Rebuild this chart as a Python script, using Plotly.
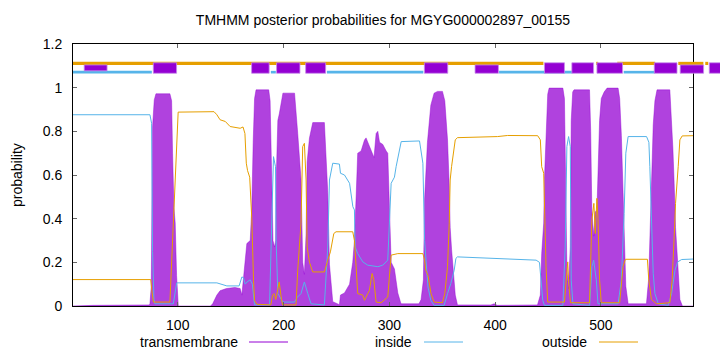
import plotly.graph_objects as go

# ---------------- data ----------------
title_text = "TMHMM posterior probabilities for MGYG000002897_00155"
seq_len = 587
x_ticks = [100, 200, 300, 400, 500]
y_ticks = [0, 0.2, 0.4, 0.6, 0.8, 1.0, 1.2]
y_tick_labels = ["0", "0.2", "0.4", "0.6", "0.8", "1", "1.2"]
legend_names = ["transmembrane", "inside", "outside"]

# posterior probability: transmembrane
tm_pos = [1, 20, 73, 73.7, 75, 76.2, 77.8, 79.4, 92.6, 94.2, 95.1, 96.4, 97.6, 98.9, 100.5,
          131, 133, 137, 140, 146, 154, 159, 160.6, 162.1, 163.7, 165.3, 168.5, 170, 171.3,
          172.6, 174, 186, 187.3, 188.5, 190, 191.5, 192.5, 193.2, 194.6, 196, 197.5, 199.4,
          208, 210.4, 213.4, 216.5, 218.1, 219.7, 221.3, 222.3, 224.5, 227.6, 238.6, 241.8,
          243.4, 244.3, 246.5, 252.8, 253.8, 257.6, 262.4, 265.4, 267, 268.6, 270.1, 273.3,
          276.5, 278, 279.6, 282.8, 285.5, 287.5, 289.1, 290.7, 293.8, 297, 298.5, 300.1,
          301.7, 304.8, 306.4, 308, 311, 328, 330, 332.2, 333.3, 336, 339.2, 342.3, 345.5,
          350.2, 352.4, 355, 356.6, 357.5, 358.8, 360.7, 362.3, 364.4, 396, 399, 402, 440,
          442.7, 444, 445.9, 446.6, 448.1, 449.7, 451, 464, 465.5, 466.2, 467.8, 469.4, 471,
          471.9, 473.3, 474.5, 489.2, 490.3, 491.4, 493.3, 494.6, 496.2, 497.2, 498.7, 500.3,
          503, 505.8, 516.2, 517.7, 519.3, 520.9, 521.9, 523.5, 525.7, 543, 545.2, 546.2,
          547.8, 549.4, 551, 553, 565.1, 566.8, 568, 569.2, 570.5, 573, 574.6, 577, 587]
tm_val = [0, 0.003, 0.005, 0.01, 0.09, 0.82, 0.944, 0.972, 0.972, 0.94, 0.70, 0.45, 0.38, 0.14, 0.0,
          0.0, 0.01, 0.05, 0.07, 0.08, 0.085, 0.08, 0.05, 0.12, 0.21, 0.286, 0.30, 0.45, 0.75,
          0.95, 0.99, 0.99, 0.94, 0.6, 0.3, 0.27, 0.3, 0.6, 0.85, 0.88, 0.93, 0.975,
          0.975, 0.975, 0.79, 0.58, 0.2, 0.145, 0.33, 0.66, 0.77, 0.84, 0.84, 0.52,
          0.19, 0.13, 0.02, 0.006, 0.05, 0.06, 0.1, 0.2, 0.3, 0.5, 0.7, 0.71,
          0.76, 0.77, 0.75, 0.71, 0.68, 0.79, 0.8, 0.75, 0.74, 0.71, 0.7, 0.45,
          0.2, 0.17, 0.12, 0.06, 0.01, 0.01, 0.03, 0.12, 0.49, 0.75, 0.92, 0.975, 0.983,
          0.983, 0.94, 0.76, 0.55, 0.36, 0.26, 0.15, 0.05, 0.005, 0.005, 0.01, 0.003, 0.005,
          0.05, 0.24, 0.38, 0.58, 0.82, 0.97, 0.998, 0.998, 0.95, 0.7, 0.17, 0.08, 0.27,
          0.85, 0.98, 0.99, 0.99, 0.8, 0.43, 0.32, 0.43, 0.44, 0.6, 0.85, 0.95,
          0.98, 0.998, 0.998, 0.95, 0.78, 0.52, 0.38, 0.09, 0.01, 0.01, 0.13, 0.28,
          0.62, 0.83, 0.94, 0.99, 0.99, 0.84, 0.72, 0.56, 0.36, 0.16, 0.03, 0.0, 0.0]

# posterior probability: inside
in_pos = [1, 73.7, 75.3, 76.2, 77.5, 78.4, 95.8, 97, 99, 137, 146.4, 158, 160.6, 162.1, 163.7,
          165.5, 168.5, 170.5, 172.6, 186.8, 189, 190.5, 192.4, 193, 194.6, 199.4, 210.4, 213,
          216.5, 219.7, 222.9, 226, 238.6, 241.8, 243.4, 246.5, 252.8, 253.8, 257.6, 262.4,
          265.5, 267, 267.7, 270.1, 274.9, 279.6, 289.1, 293.8, 298.5, 300.1, 301.7, 304.8,
          306.4, 311.2, 328.5, 331.7, 333.3, 336.5, 339.2, 342.3, 351.8, 355, 358.1, 361.3,
          362.9, 364.4, 399.2, 438.7, 441.9, 443.5, 445, 446.6, 464, 466.2, 467.8, 469.4, 471,
          471.9, 473.5, 489.3, 491.5, 493.1, 495.6, 497.2, 516.2, 519.3, 521.9, 523.5, 525.7,
          543.1, 545.3, 546.2, 547.8, 549.4, 551, 554.2, 563.6, 566.8, 570, 572.5, 576.3, 587]
in_val = [0.876, 0.876, 0.837, 0.25, 0.03, 0.01, 0.01, 0.05, 0.106, 0.106, 0.092, 0.092, 0.133, 0.13, 0.1,
          0.11, 0.12, 0.1, 0.005, 0.005, 0.424, 0.684, 0.638, 0.3, 0.057, 0.018, 0.018, 0.04,
          0.057, 0.11, 0.057, 0.01, 0.005, 0.27, 0.577, 0.654, 0.65, 0.608, 0.6, 0.562,
          0.455, 0.44, 0.27, 0.24, 0.202, 0.187, 0.18, 0.187, 0.21, 0.424, 0.562, 0.59,
          0.638, 0.753, 0.756, 0.654, 0.30, 0.087, 0.026, 0.003, 0.003, 0.057, 0.103, 0.164,
          0.218, 0.225, 0.218, 0.21, 0.2, 0.12, 0.026, 0.003, 0.003, 0.27, 0.73, 0.776, 0.73,
          0.118, 0.01, 0.003, 0.18, 0.21, 0.12, 0.01, 0.01, 0.118, 0.424, 0.7, 0.776,
          0.776, 0.75, 0.638, 0.348, 0.149, 0.057, 0.01, 0.003, 0.057, 0.164, 0.202, 0.213, 0.215]

# posterior probability: outside
out_pos = [1, 74.5, 75.5, 77, 92.6, 95, 97.5, 99, 100.4, 134.3, 137, 140, 145, 149.5, 159, 161.7,
           163.5, 164.8, 166, 168, 170, 171.6, 172.6, 174.8, 188, 189.6, 191, 192.7, 195.9, 197.5,
           199, 211.8, 213.4, 216.5, 218.1, 219.7, 221.3, 222.3, 224.5, 227.6, 238.6, 241.8,
           244.3, 247.5, 249.6, 265.4, 267, 268.6, 270.1, 274.9, 276.5, 279.6, 281.2, 283.7,
           285.3, 287.5, 292.2, 298.5, 300.1, 301.7, 308, 331.7, 333.3, 334.4, 336.5, 339.4,
           342.3, 350.2, 352.4, 355, 356.6, 357.5, 358.8, 360.7, 362.3, 364.4, 402.3, 411.8,
           440.2, 442.7, 444, 445.9, 446.6, 448.1, 449.7, 465.5, 468.6, 469.6, 471.2, 489.2,
           491.4, 493.3, 494.6, 496.2, 497.2, 498.7, 500.3, 517.7, 520.9, 523.1, 543.9, 545.2,
           547.7, 552.5, 565.1, 567.3, 569.2, 570.5, 573, 574.6, 576.8, 587]
out_val = [0.121, 0.121, 0.07, 0.018, 0.018, 0.27, 0.546, 0.73, 0.888, 0.89, 0.876, 0.853, 0.845, 0.822, 0.814, 0.82,
           0.79, 0.654, 0.62, 0.59, 0.4, 0.118, 0.026, 0.008, 0.005, 0.049, 0.057, 0.03, 0.11, 0.05,
           0.005, 0.005, 0.164, 0.378, 0.73, 0.745, 0.577, 0.27, 0.2, 0.156, 0.156, 0.21,
           0.248, 0.332, 0.34, 0.34, 0.3, 0.18, 0.057, 0.05, 0.026, 0.057, 0.072, 0.149,
           0.12, 0.018, 0.015, 0.041, 0.133, 0.233, 0.24, 0.24, 0.21, 0.164, 0.14, 0.057,
           0.018, 0.015, 0.057, 0.18, 0.378, 0.577, 0.638, 0.7, 0.761, 0.771, 0.776, 0.781,
           0.78, 0.761, 0.638, 0.608, 0.424, 0.18, 0.018, 0.018, 0.202, 0.1, 0.015, 0.015,
           0.393, 0.47, 0.332, 0.493, 0.4, 0.12, 0.015, 0.015, 0.18, 0.214, 0.214, 0.12,
           0.03, 0.01, 0.015, 0.12, 0.317, 0.47, 0.638, 0.761, 0.779, 0.78]

# predicted topology strip (residue ranges)
tm_box_start = [11.6, 76.9, 169.8, 193.4, 220.9, 333.1, 381.0, 446.6, 472.5, 496.2, 550.4, 574.9, 602.4]
tm_box_end   = [33.2, 98.9, 186.4, 215.5, 239.8, 355.2, 403.1, 465.5, 493.0, 520.4, 571.9, 597.0, 614.7]
inside_start = [1, 188.0, 241.0, 403.7, 521.5]
inside_end   = [75.5, 192.7, 332.1, 472.8, 550.8]
outside_start = [1, 495.5, 515.4, 573.1, 598.6]
outside_end   = [445.6, 497.4, 551.3, 596.8, 601.4]

# ---------------- style ----------------
C_TM = "#9400d3"
C_TM_FILL = "rgba(148,0,211,0.74)"
C_IN = "#56b4e9"
C_OUT = "#e69f00"
FONT = "Liberation Sans"
W, H = 720, 352
ML, MR, MT, MB = 73, 27, 44, 46
XMIN, XMAX = 1, seq_len
YMIN, YMAX = 0, 1.2
short_boxes = {0, 6, 11}


def xp(v):
    return (v - XMIN) / (XMAX - XMIN)


def yp(v):
    return (v - YMIN) / (YMAX - YMIN)


def px2paper_x(px):
    return (px - ML) / (W - ML - MR)


def px2paper_y(py):
    return (H - MB - py) / (H - MT - MB)


fig = go.Figure()
fig.add_trace(go.Scatter(x=tm_pos, y=tm_val, mode="lines", fill="tozeroy",
                         line=dict(color=C_TM_FILL, width=0.6), fillcolor=C_TM_FILL,
                         name=legend_names[0], showlegend=False))
fig.add_trace(go.Scatter(x=in_pos, y=in_val, mode="lines",
                         line=dict(color=C_IN, width=1), name=legend_names[1], showlegend=False))
fig.add_trace(go.Scatter(x=out_pos, y=out_val, mode="lines",
                         line=dict(color=C_OUT, width=1), name=legend_names[2], showlegend=False))

shapes = []
for a, b in zip(outside_start, outside_end):
    shapes.append(dict(type="line", xref="paper", yref="paper", x0=xp(a), x1=xp(b),
                       y0=yp(1.111), y1=yp(1.111), line=dict(color=C_OUT, width=3.2)))
for a, b in zip(inside_start, inside_end):
    shapes.append(dict(type="line", xref="paper", yref="paper", x0=xp(a), x1=xp(b),
                       y0=yp(1.071), y1=yp(1.071), line=dict(color=C_IN, width=2.6)))
for i, (a, b) in enumerate(zip(tm_box_start, tm_box_end)):
    top = 1.104 if i in short_boxes else 1.114
    bot = 1.077 if i == 0 else 1.066
    shapes.append(dict(type="rect", xref="paper", yref="paper", x0=xp(a), x1=xp(b),
                       y0=yp(bot), y1=yp(top), fillcolor=C_TM,
                       line=dict(color="rgba(200,140,235,1)", width=0.8)))

# legend samples (gnuplot style: text then line)
legend_text_right = [240, 414, 589]
legend_line = [(249, 288), (424, 463), (599, 638)]
legend_colors = [C_TM, C_IN, C_OUT]
legend_y = 342
annotations = []
for name, tx, (l0, l1), col in zip(legend_names, legend_text_right, legend_line, legend_colors):
    annotations.append(dict(text=name, xref="paper", yref="paper", x=px2paper_x(tx),
                            y=px2paper_y(legend_y), xanchor="right", yanchor="middle",
                            showarrow=False, font=dict(family=FONT, size=14, color="black")))
    shapes.append(dict(type="line", xref="paper", yref="paper", x0=px2paper_x(l0),
                       x1=px2paper_x(l1), y0=px2paper_y(legend_y), y1=px2paper_y(legend_y),
                       line=dict(color=col, width=1)))
annotations.append(dict(text="probability", xref="paper", yref="paper", x=px2paper_x(17),
                        y=0.5, xanchor="center", yanchor="middle", textangle=-90,
                        showarrow=False, font=dict(family=FONT, size=14, color="black")))

fig.update_layout(
    width=W, height=H,
    margin=dict(l=ML, r=MR, t=MT, b=MB),
    paper_bgcolor="white", plot_bgcolor="white",
    font=dict(family=FONT, size=14, color="black"),
    title=dict(text=title_text, x=px2paper_x(383), xref="paper", xanchor="center",
               y=1 - 20 / H, yref="container", yanchor="middle",
               font=dict(family=FONT, size=14, color="black")),
    showlegend=False,
    shapes=shapes,
    annotations=annotations,
)
fig.update_xaxes(range=[XMIN, XMAX], tickvals=x_ticks, ticks="inside", ticklen=4,
                 tickcolor="#666", mirror="allticks", showline=True, linecolor="black",
                 linewidth=1, showgrid=False, zeroline=False, ticklabelstandoff=6,
                 tickfont=dict(family=FONT, size=14))
fig.update_yaxes(range=[YMIN, YMAX], tickvals=y_ticks, ticktext=y_tick_labels, ticks="inside",
                 ticklen=4, tickcolor="#666", mirror="allticks", showline=True,
                 linecolor="black", linewidth=1, showgrid=False, zeroline=False,
                 ticklabelstandoff=7, tickfont=dict(family=FONT, size=14))

fig.write_html("out.html")
